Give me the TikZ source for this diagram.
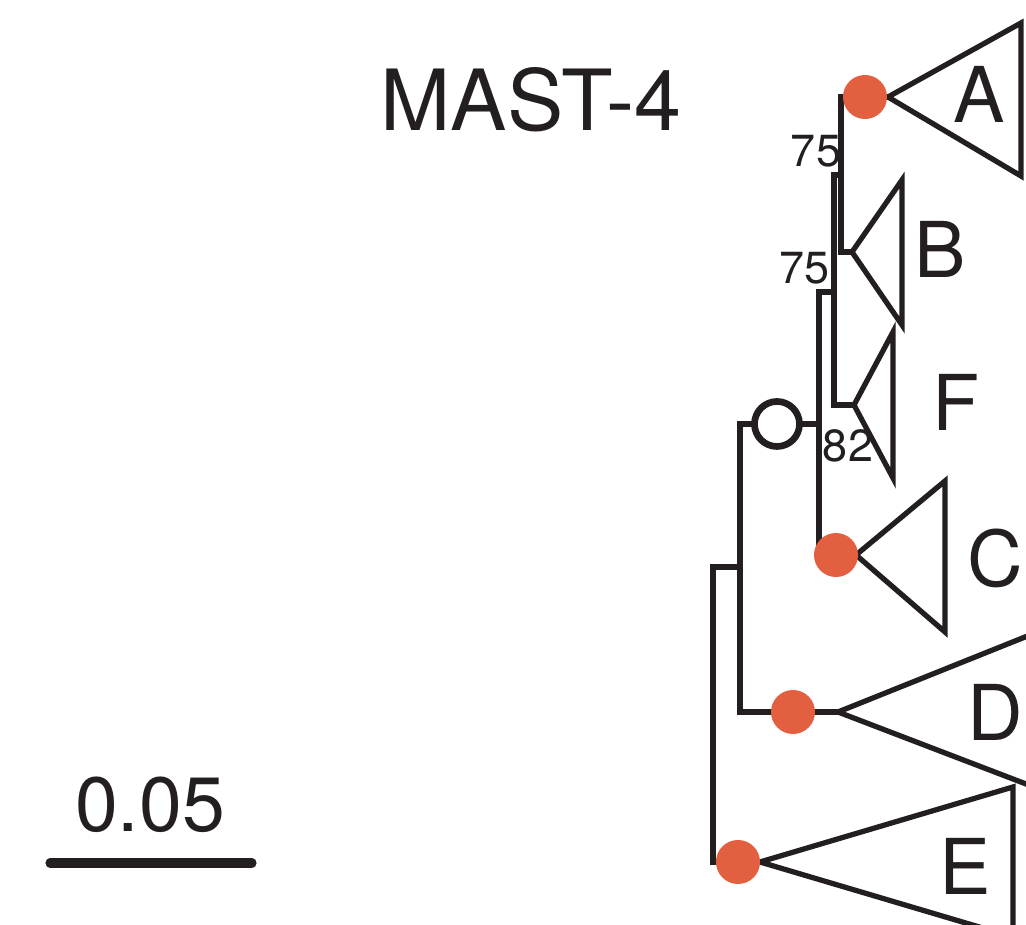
\documentclass[tikz,border=0pt]{standalone}
\usepackage{fontspec}
\setmainfont{TeX Gyre Heros}
\usepackage{xcolor}
\usepackage{tikz}
\definecolor{C0}{HTML}{231F20}
\definecolor{C1}{HTML}{E2603F}

\begin{document}
\begin{tikzpicture}[x=0.01cm,y=-0.01cm]
\tikzstyle{br}=[draw=C0,line width=1.5pt]
\tikzstyle{clade}=[draw=C0,line width=1.5pt]
\tikzstyle{pt}=[shape=circle,fill=C1,inner sep=0pt,minimum size=0.44cm]
\tikzstyle{op}=[shape=circle,draw=C0,fill=white,line width=1.9pt,inner sep=0pt,minimum size=0.45cm]
\tikzstyle{lab}=[inner sep=0pt,text=C0,font=\fontsize{21.9}{24}\selectfont]
\tikzstyle{bs}=[inner sep=0pt,text=C0,font=\fontsize{12.8}{14}\selectfont]
\tikzstyle{ttl}=[inner sep=0pt,text=C0,font=\fontsize{24}{28}\selectfont]

\useasboundingbox (0,0) rectangle (1026,925);
\clip (0,0) rectangle (1026,925);
%
\coordinate (n4t) at (841,97);  \coordinate (n4b) at (841,252);
\coordinate (n3t) at (834,175); \coordinate (n3b) at (834,405);
\coordinate (n2t) at (819,292); \coordinate (n2b) at (819,555);
\coordinate (n1t) at (740,424); \coordinate (n1b) at (740,712);
\coordinate (n0t) at (713,567); \coordinate (n0b) at (713,862);
%
\coordinate (aA) at (888,97);  \coordinate (tA) at (1021,23);  \coordinate (bA) at (1021,176);
\coordinate (aB) at (852,252); \coordinate (tB) at (902,180);  \coordinate (bB) at (902,325);
\coordinate (aF) at (854,405); \coordinate (tF) at (893,332);  \coordinate (bF) at (893,478);
\coordinate (aC) at (856,555); \coordinate (tC) at (945,481);  \coordinate (bC) at (945,632);
\coordinate (aD) at (838,712); \coordinate (tD) at (1060,623); \coordinate (bD) at (1060,797);
\coordinate (aE) at (760,862); \coordinate (tE) at (1013,787); \coordinate (bE) at (1013,937);
%
\draw[br] (aA) -- (n4t) -- (n4b) -- (aB);
\draw[br] (n3t -| n4t) -- (n3t) -- (n3b) -- (aF);
\draw[br] (n2t -| n3t) -- (n2t) -- (n2b) -- (aC);
\draw[br] (n1t -| n2t) -- (n1t) -- (n1b) -- (aD);
\draw[br] (n0t -| n1t) -- (n0t) -- (n0b) -- (aE);
%
\draw[clade] (aA) -- (tA) -- (bA) -- cycle;
\draw[clade] (aB) -- (tB) -- (bB) -- cycle;
\draw[clade] (aF) -- (tF) -- (bF) -- cycle;
\draw[clade] (aC) -- (tC) -- (bC) -- cycle;
\draw[clade] (aD) -- (tD) -- (bD) -- cycle;
\draw[clade] (aE) -- (tE) -- (bE) -- cycle;
%
\node[pt](dA) at (865,97){};
\node[pt](dC) at (836,555){};
\node[pt](dD) at (793,712){};
\node[pt](dE) at (738,862){};
\node[op](oX) at (777,424){};
%
\node[lab](lA) at (979,94){A};
\node[lab](lB) at (940,249){B};
\node[lab](lF) at (956,402){F};
\node[lab](lC) at (995,558){C};
\node[lab](lD) at (995,712){D};
\node[lab](lE) at (965,866){E};
%
\node[bs](bs1) at (816,151){75};
\node[bs](bs2) at (805,268){75};
\node[bs](bs3) at (848,446){82};
%
\node[ttl](ttl) at (531,100){MAST-4};
%
\coordinate (s0) at (50,863);
\coordinate (s1) at (252,863);
\draw[draw=C0,line width=2.6pt,line cap=round] (s0) -- (s1);
\node[lab](sc) at (150,805){0.05};
\end{tikzpicture}
\end{document}
